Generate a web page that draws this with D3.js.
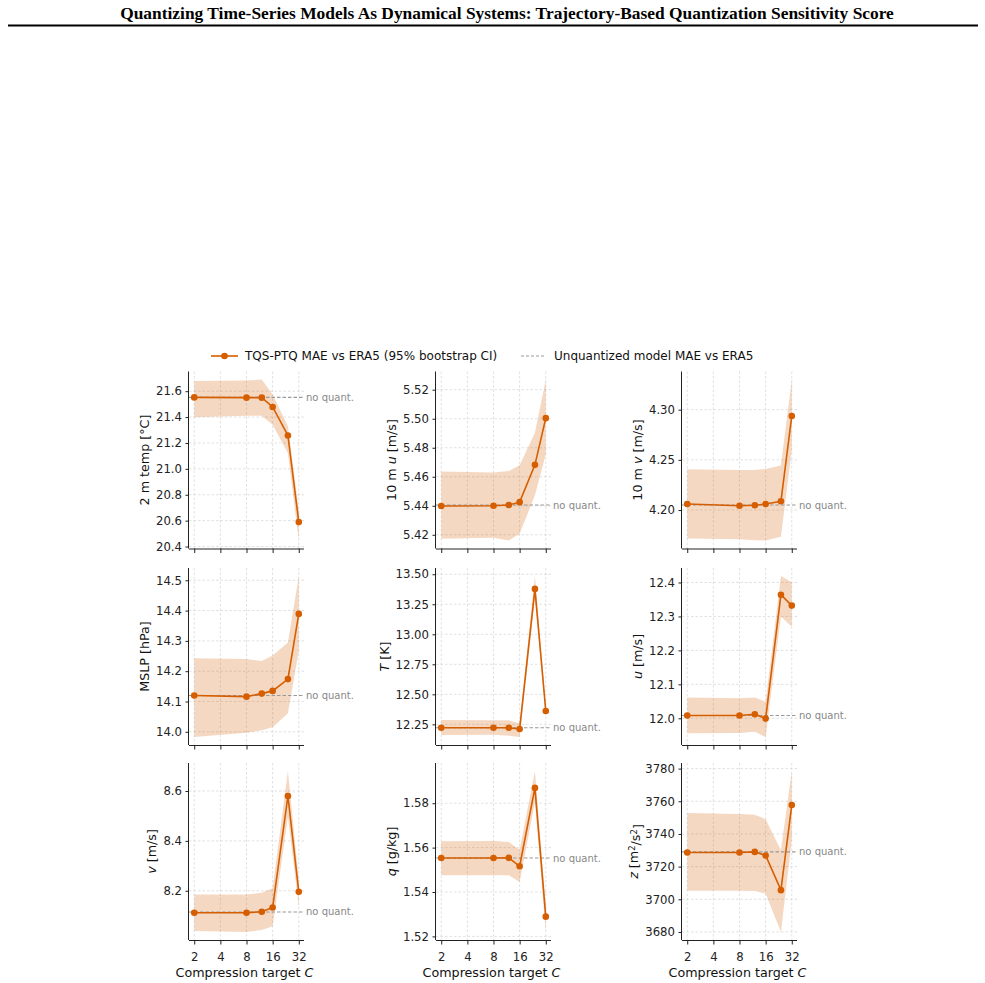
<!DOCTYPE html>
<html>
<head>
<meta charset="utf-8">
<script src="https://cdn.jsdelivr.net/npm/d3@7"></script>
<style>
  body { margin: 0; background: #fff; }
  text { font-family: "DejaVu Sans", sans-serif; }
</style>
</head>
<body>
<div id="chart"></div>
<script>
// compression targets and x ticks
var compression = [2, 8, 12, 16, 24, 32];
var xTicks = [2, 4, 8, 16, 32];

// MAE vs ERA5 + 95% bootstrap CI, one set per variable
var t2m_mae = [21.552, 21.550, 21.550, 21.478, 21.258, 20.589];
var t2m_lo  = [21.398, 21.410, 21.410, 21.340, 21.120, 20.447];
var t2m_hi  = [21.678, 21.683, 21.690, 21.574, 21.330, 20.680];

var u10_mae = [5.4398, 5.4400, 5.4405, 5.4425, 5.4682, 5.5004];
var u10_lo  = [5.4172, 5.4180, 5.4161, 5.4207, 5.4473, 5.4754];
var u10_hi  = [5.4636, 5.4629, 5.4640, 5.4679, 5.4903, 5.5270];

var v10_mae = [4.2060, 4.2043, 4.2047, 4.2060, 4.2087, 4.2937];
var v10_lo  = [4.1717, 4.1710, 4.1700, 4.1697, 4.1733, 4.2600];
var v10_hi  = [4.2407, 4.2400, 4.2400, 4.2410, 4.2443, 4.3300];

var mslp_mae = [14.120, 14.116, 14.126, 14.135, 14.174, 14.389];
var mslp_lo  = [13.983, 13.997, 14.005, 14.015, 14.061, 14.267];
var mslp_hi  = [14.243, 14.240, 14.234, 14.252, 14.295, 14.514];

var T_mae = [12.222, 12.222, 12.222, 12.211, 13.378, 12.361];
var T_lo  = [12.161, 12.163, 12.156, 12.145, 13.300, 12.320];
var T_hi  = [12.286, 12.285, 12.284, 12.258, 13.485, 12.397];

var u_mae = [12.008, 12.008, 12.012, 11.999, 12.364, 12.332];
var u_lo  = [11.956, 11.957, 11.960, 11.945, 12.300, 12.270];
var u_hi  = [12.061, 12.059, 12.061, 12.049, 12.419, 12.401];

var v_mae = [8.112, 8.112, 8.116, 8.133, 8.580, 8.196];
var v_lo  = [8.039, 8.035, 8.043, 8.058, 8.497, 8.136];
var v_hi  = [8.185, 8.185, 8.192, 8.210, 8.680, 8.243];

var q_mae = [1.5553, 1.5553, 1.5554, 1.5516, 1.5869, 1.5289];
var q_lo  = [1.5475, 1.5475, 1.5475, 1.5445, 1.5805, 1.5220];
var q_hi  = [1.5629, 1.5630, 1.5625, 1.5590, 1.5945, 1.5335];

var z_mae = [3728.6, 3728.6, 3729.0, 3726.8, 3705.6, 3757.7];
var z_lo  = [3705.2, 3705.2, 3705.0, 3703.5, 3680.0, 3736.0];
var z_hi  = [3752.8, 3752.2, 3751.7, 3749.0, 3730.0, 3778.5];

// unquantized model MAE per variable (same order as panels)
var unquant = [21.552, 5.4405, 4.205, 14.120, 12.222, 12.008, 8.115, 1.5553, 3729.0];

// y tick labels per panel
var yTicks = [
  [20.4, 20.6, 20.8, 21.0, 21.2, 21.4, 21.6],
  [5.42, 5.44, 5.46, 5.48, 5.50, 5.52],
  [4.20, 4.25, 4.30],
  [14.0, 14.1, 14.2, 14.3, 14.4, 14.5],
  [12.25, 12.50, 12.75, 13.00, 13.25, 13.50],
  [12.0, 12.1, 12.2, 12.3, 12.4],
  [8.2, 8.4, 8.6],
  [1.52, 1.54, 1.56, 1.58],
  [3680, 3700, 3720, 3740, 3760, 3780]
];
var yFormats = [".1f", ".2f", ".2f", ".1f", ".2f", ".1f", ".1f", ".2f", "d"];

var series = [
  [t2m_mae, t2m_lo, t2m_hi], [u10_mae, u10_lo, u10_hi], [v10_mae, v10_lo, v10_hi],
  [mslp_mae, mslp_lo, mslp_hi], [T_mae, T_lo, T_hi], [u_mae, u_lo, u_hi],
  [v_mae, v_lo, v_hi], [q_mae, q_lo, q_hi], [z_mae, z_lo, z_hi]
];

var orange = "#d55e00";
var width = 985, height = 983;

var svg = d3.select("#chart").append("svg")
  .attr("width", width)
  .attr("height", height);

// title + rule
svg.append("text")
  .attr("x", 507).attr("y", 19)
  .attr("text-anchor", "middle")
  .style("font-family", "'Liberation Serif', 'Times New Roman', serif")
  .style("font-weight", "bold")
  .style("font-size", "17.4px")
  .text("Quantizing Time-Series Models As Dynamical Systems: Trajectory-Based Quantization Sensitivity Score");
svg.append("line")
  .attr("x1", 8).attr("x2", 978).attr("y1", 25.5).attr("y2", 25.5)
  .attr("stroke", "#000").attr("stroke-width", 2);

// legend
var lg = svg.append("g").attr("transform", "translate(0,356)");
lg.append("line").attr("x1", 211).attr("x2", 238).attr("y1", 0).attr("y2", 0)
  .attr("stroke", orange).attr("stroke-width", 1.6);
lg.append("circle").attr("cx", 224.5).attr("cy", 0).attr("r", 3.3).attr("fill", orange);
lg.append("text").attr("x", 245).attr("y", 4).style("font-size", "12px").attr("fill", "#111")
  .text("TQS-PTQ MAE vs ERA5 (95% bootstrap CI)");
lg.append("line").attr("x1", 521).attr("x2", 546).attr("y1", 0).attr("y2", 0)
  .attr("stroke", "#999").attr("stroke-width", 1.1).attr("stroke-dasharray", "3,2");
lg.append("text").attr("x", 554).attr("y", 4).style("font-size", "12px").attr("fill", "#111")
  .text("Unquantized model MAE vs ERA5");

var colLeft = [189, 436, 682];
var rowTop = [371.5, 568, 763];
var pw = 115, ph = 177;

var x = d3.scaleLog().base(2)
  .domain([Math.pow(2, 0.8), Math.pow(2, 5.2)])
  .range([0, pw]);

// y-axis labels (with italic parts)
var yLabels = [
  [["2 m temp [°C]", false]],
  [["10 m ", false], ["u", true], [" [m/s]", false]],
  [["10 m ", false], ["v", true], [" [m/s]", false]],
  [["MSLP [hPa]", false]],
  [["T", true], [" [K]", false]],
  [["u", true], [" [m/s]", false]],
  [["v", true], [" [m/s]", false]],
  [["q", true], [" [g/kg]", false]],
  [["z", true], [" [m", false], ["2", false, true], ["/s", false], ["2", false, true], ["]", false]]
];

series.forEach(function(s, i) {
  var col = i % 3, row = Math.floor(i / 3);
  var mae = s[0], lo = s[1], hi = s[2];

  var ext = [d3.min(lo), d3.max(hi)];
  var pad = (ext[1] - ext[0]) * 0.05;
  var y = d3.scaleLinear().domain([ext[0] - pad, ext[1] + pad]).range([ph, 0]);

  var g = svg.append("g")
    .attr("transform", "translate(" + colLeft[col] + "," + rowTop[row] + ")");

  // grid
  g.append("g").selectAll("line").data(xTicks).enter().append("line")
    .attr("x1", function(d) { return x(d); }).attr("x2", function(d) { return x(d); })
    .attr("y1", 0).attr("y2", ph)
    .attr("stroke", "#ccc").attr("stroke-width", 0.6).attr("stroke-dasharray", "2.5,2");
  g.append("g").selectAll("line").data(yTicks[i]).enter().append("line")
    .attr("x1", 0).attr("x2", pw)
    .attr("y1", function(d) { return y(d); }).attr("y2", function(d) { return y(d); })
    .attr("stroke", "#ccc").attr("stroke-width", 0.6).attr("stroke-dasharray", "2.5,2");

  // CI band
  var area = d3.area()
    .x(function(d, k) { return x(compression[k]); })
    .y0(function(d, k) { return y(lo[k]); })
    .y1(function(d, k) { return y(hi[k]); });
  g.append("path").datum(mae).attr("d", area)
    .attr("fill", orange).attr("fill-opacity", 0.24);

  // unquantized reference
  var uy = y(unquant[i]);
  g.append("line").attr("x1", 0).attr("x2", pw).attr("y1", uy).attr("y2", uy)
    .attr("stroke", "#999").attr("stroke-width", 1.1).attr("stroke-dasharray", "3.5,2");
  g.append("text").attr("x", pw + 2).attr("y", uy).attr("dy", "0.35em")
    .style("font-size", "10px").attr("fill", "#888").text("no quant.");

  // MAE line + markers
  var line = d3.line()
    .x(function(d, k) { return x(compression[k]); })
    .y(function(d) { return y(d); });
  g.append("path").datum(mae).attr("d", line)
    .attr("fill", "none").attr("stroke", orange).attr("stroke-width", 1.6);
  g.selectAll(".pt").data(mae).enter().append("circle")
    .attr("class", "pt")
    .attr("cx", function(d, k) { return x(compression[k]); })
    .attr("cy", function(d) { return y(d); })
    .attr("r", 3.3).attr("fill", orange);

  // axes
  var xAxis = d3.axisBottom(x).tickValues(xTicks).tickSize(4.5).tickPadding(8)
    .tickFormat(row === 2 ? d3.format("d") : function() { return ""; });
  var xg = g.append("g").attr("transform", "translate(0," + ph + ")").call(xAxis);
  var yAxis = d3.axisLeft(y).tickValues(yTicks[i]).tickSize(3.5).tickPadding(3.5)
    .tickFormat(d3.format(yFormats[i]));
  var yg = g.append("g").call(yAxis);

  [xg, yg].forEach(function(a) {
    a.select(".domain").attr("stroke", "#222").attr("stroke-width", 1);
    a.selectAll(".tick line").attr("stroke", "#222");
    a.selectAll(".tick text").attr("fill", "#222").style("font-size", "11.7px")
      .style("font-family", "'DejaVu Sans', sans-serif");
  });
  // flatten axis ends (matplotlib spines have no outer ticks)
  xg.select(".domain").attr("d", "M0,0.5H" + pw);
  yg.select(".domain").attr("d", "M-0.5,0V" + ph);

  // y label position from tick label extent
  var minX = 0;
  yg.selectAll(".tick text").each(function() {
    var b = this.getBBox();
    if (b.x < minX) minX = b.x;
  });
  var yl = g.append("text")
    .attr("transform", "translate(" + (minX - 7) + "," + (ph / 2) + ") rotate(-90)")
    .attr("text-anchor", "middle")
    .style("font-size", "12.7px").attr("fill", "#111");
  yLabels[i].forEach(function(p) {
    var ts = yl.append("tspan").text(p[0]);
    if (p[1]) ts.style("font-style", "italic");
    if (p[2]) ts.attr("dy", "-0.4em").style("font-size", "8.5px");
    else if (p[0].charAt(0) === "/" || p[0] === "]") ts.attr("dy", "0.4em");
  });

  if (row === 2) {
    var xl = g.append("text").attr("x", pw / 2 - 2).attr("y", ph + 37)
      .attr("text-anchor", "middle").style("font-size", "12.7px").attr("fill", "#111");
    xl.append("tspan").text("Compression target ");
    xl.append("tspan").style("font-style", "italic").text("C");
  }
});
</script>
</body>
</html>
